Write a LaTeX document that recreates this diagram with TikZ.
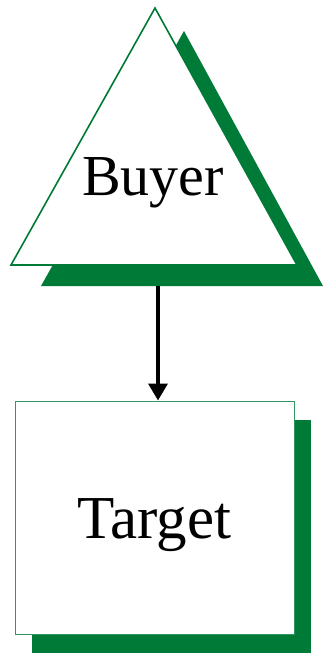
\documentclass[tikz,border=0pt]{standalone}
\usepackage{fontspec}
\setmainfont{Liberation Serif}
\usepackage{xcolor}
\usetikzlibrary{arrows.meta,positioning,shadows}
\definecolor{leafgreen}{RGB}{0,122,55}

\begin{document}
\begin{tikzpicture}[
    x=1pt, y=-1pt,
    label/.style={
      font=\fontsize{58}{62}\selectfont, inner sep=0pt
    },
    tribox/.style={
      draw=leafgreen, line width=1.6pt, fill=white, line join=miter
    },
    trishadow/.style={
      fill=leafgreen
    },
    sqbox/.style={
      draw=leafgreen!80, line width=1pt, fill=white,
      minimum width=279pt, minimum height=233pt,
      label, font=\fontsize{61}{64}\selectfont,
      drop shadow={shadow xshift=17pt, shadow yshift=-19pt,
                   fill=leafgreen, opacity=1}
    },
    >={Triangle[length=17pt,width=19pt]}
  ]

    \useasboundingbox (0,0) rectangle (323,653);

    % Buyer (triangle with shadow)
    \fill[trishadow] (184,31) -- (323,286) -- (41,286) -- cycle;
    \draw[tribox]    (155,8)  -- (297,265) -- (11,265) -- cycle;
    \node[label] (buyer) at (153,183) {Buyer};
    \coordinate (buyerbase) at (158,286);

    % Target (box with shadow)
    \node[sqbox] (target) at (154.5,517.5) {\raisebox{-21pt}[0pt][0pt]{Target}};

    % Buyer -> Target
    \draw[->, line width=3.5pt] (buyerbase) -- (buyerbase |- target.north);

  \end{tikzpicture}
\end{document}
